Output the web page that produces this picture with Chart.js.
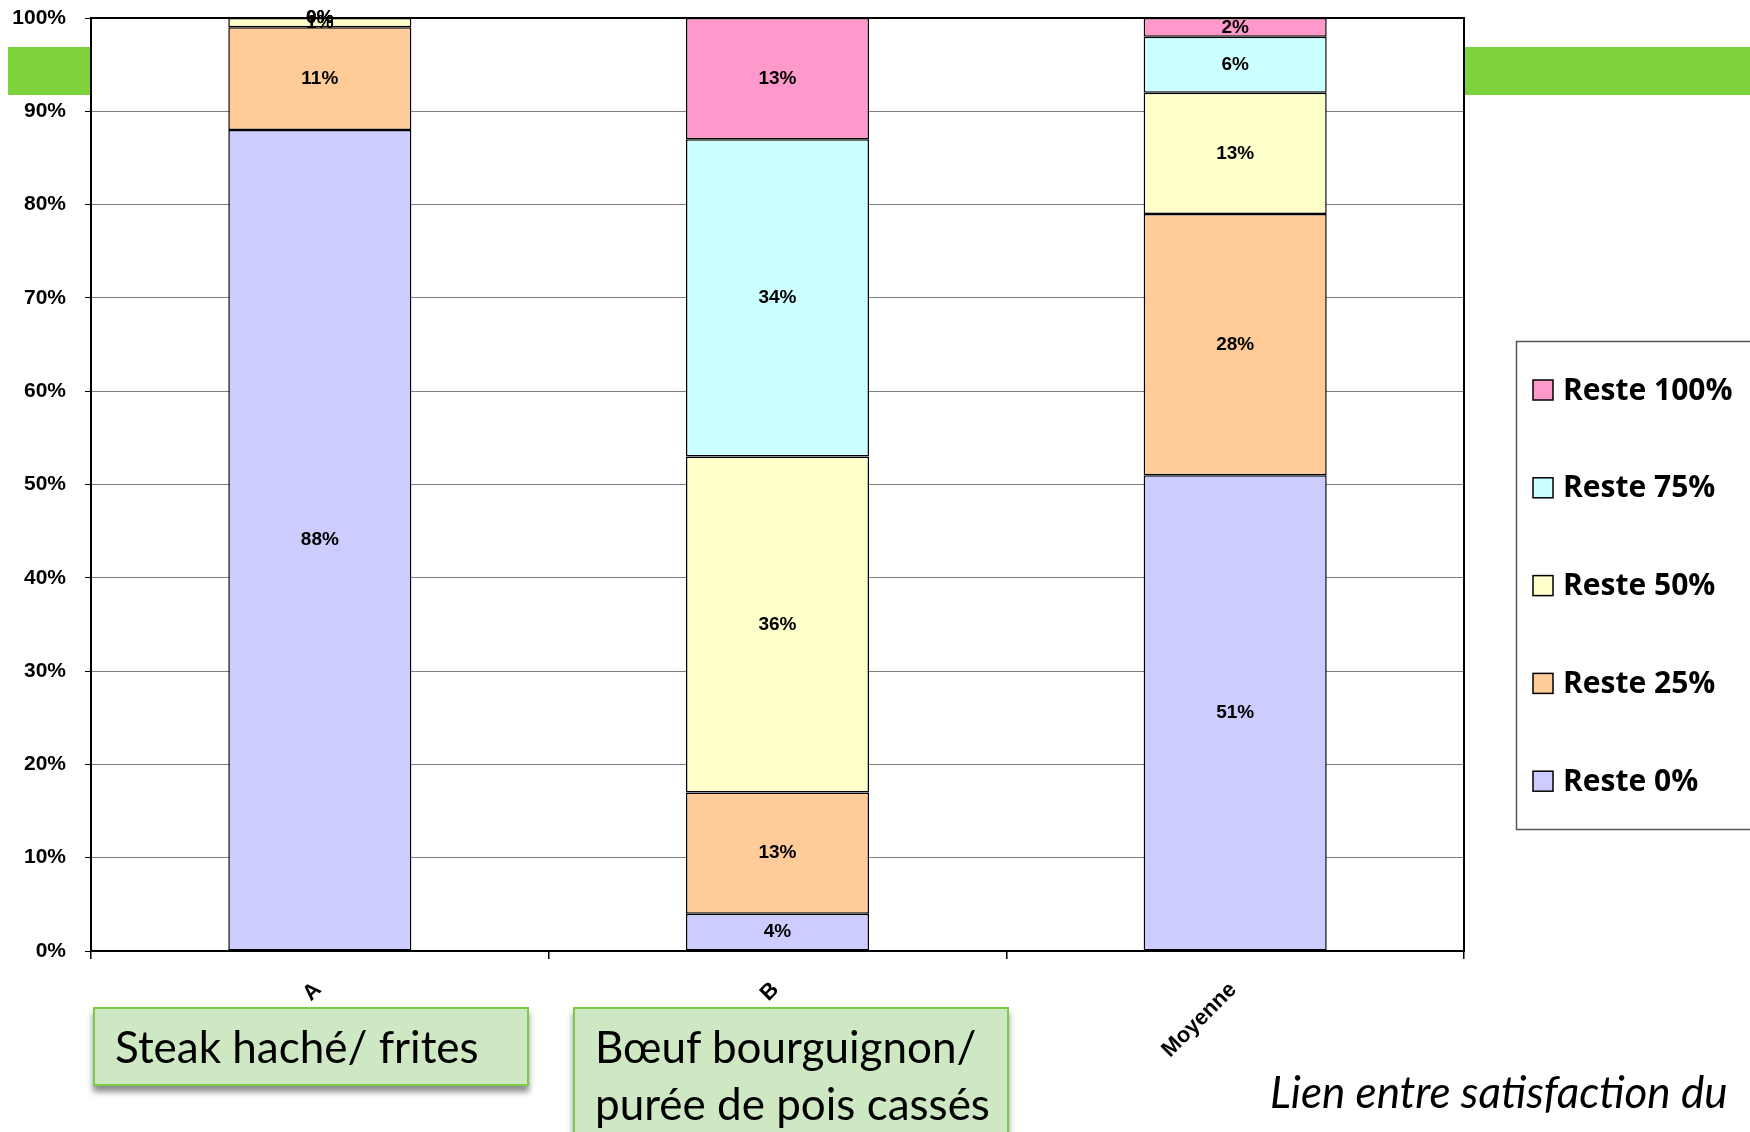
<!DOCTYPE html>
<html lang="fr">
<head>
<meta charset="utf-8">
<title>Reste par plat</title>
<script src="https://cdn.jsdelivr.net/npm/chart.js@4.4.1/dist/chart.umd.min.js"></script>
<style>
  html, body { margin: 0; padding: 0; background: #fff; }
  body { width: 1750px; height: 1132px; overflow: hidden; position: relative; }
  #band { position: absolute; left: 8px; top: 47px; width: 1742px; height: 48px; background: #7ed23c; }
  #chart { position: absolute; left: 0; top: 0; }
  .note { position: absolute; box-sizing: border-box; background: #cde8c2; border: 2px solid #7acc44;
          box-shadow: 0 6px 6px rgba(0,0,0,0.45); color: #000; font-family: Lato, sans-serif; font-size: 44px; }
  .note span { position: absolute; left: 20px; white-space: nowrap; line-height: 44px; }
  #caption { position: absolute; left: 1270px; top: 1069px; font-family: Lato, sans-serif; font-style: italic;
             font-size: 44px; line-height: 44px; color: #000; white-space: nowrap; }
</style>
</head>
<body>
<div id="band"></div>
<canvas id="chart" width="1750" height="1132"></canvas>
<div class="note" style="left:93px; top:1007px; width:436px; height:79px;">
  <span style="top:15px;">Steak haché/ frites</span>
</div>
<div class="note" style="left:573px; top:1007px; width:436px; height:140px;">
  <span style="top:15px;">Bœuf bourguignon/</span>
  <span style="top:72px;">purée de pois cassés</span>
</div>
<div id="caption">Lien entre satisfaction du</div>

<script>
// Plats comparés et part des assiettes selon le reste laissé (en %)
const categories = ['A', 'B', 'Moyenne'];
const seriesNames = ['Reste 0%', 'Reste 25%', 'Reste 50%', 'Reste 75%', 'Reste 100%'];
const reste0   = [88, 4, 51];
const reste25  = [11, 13, 28];
const reste50  = [1, 36, 13];
const reste75  = [0, 34, 6];
const reste100 = [0, 13, 2];
const seriesColors = ['#ccccff', '#ffcc99', '#ffffcc', '#ccffff', '#ff99cc'];
const yTickValues = [0, 10, 20, 30, 40, 50, 60, 70, 80, 90, 100];

const seriesValues = [reste0, reste25, reste50, reste75, reste100];

const datasets = seriesNames.map((name, i) => ({
  label: name,
  data: seriesValues[i],
  backgroundColor: seriesColors[i],
  borderColor: '#000',
  borderWidth: 1.5,
  borderSkipped: false,
  barPercentage: 0.4,
  categoryPercentage: 1.0
}));

// White plot area drawn over the green band
const plotBackground = {
  id: 'plotBackground',
  beforeDraw(chart) {
    const { ctx, chartArea: a } = chart;
    ctx.save();
    ctx.fillStyle = '#fff';
    ctx.fillRect(a.left, a.top, a.right - a.left, a.bottom - a.top);
    ctx.restore();
  }
};

// Black frame around the plot area
const plotFrame = {
  id: 'plotFrame',
  afterDatasetsDraw(chart) {
    const { ctx, chartArea: a } = chart;
    ctx.save();
    ctx.strokeStyle = '#000';
    ctx.lineWidth = 2;
    ctx.strokeRect(a.left, a.top, a.right - a.left, a.bottom - a.top);
    ctx.restore();
  }
};

// Percentage written in the middle of every segment
const segmentLabels = {
  id: 'segmentLabels',
  afterDraw(chart) {
    const ctx = chart.ctx;
    ctx.save();
    ctx.font = 'bold 19px "Liberation Sans", Arial, sans-serif';
    ctx.fillStyle = '#000';
    ctx.textAlign = 'center';
    ctx.textBaseline = 'middle';
    chart.data.datasets.forEach((ds, di) => {
      const meta = chart.getDatasetMeta(di);
      meta.data.forEach((bar, i) => {
        const y = (bar.y + bar.base) / 2;
        ctx.fillText(ds.data[i] + '%', bar.x, y);
      });
    });
    ctx.restore();
  }
};

// Boxed legend on the right, last series at the top
const boxedLegend = {
  id: 'boxedLegend',
  afterDraw(chart) {
    const ctx = chart.ctx;
    const left = 1516.5, top = 341.5, width = 260, height = 488;
    ctx.save();
    ctx.strokeStyle = '#555';
    ctx.lineWidth = 1.5;
    ctx.strokeRect(left, top, width, height);
    const items = chart.data.datasets.slice().reverse();
    const firstY = 390, step = 97.8;
    ctx.font = 'bold 30px "Open Sans", sans-serif';
    ctx.textBaseline = 'middle';
    ctx.textAlign = 'left';
    items.forEach((ds, i) => {
      const cy = firstY + i * step;
      ctx.fillStyle = ds.backgroundColor;
      ctx.fillRect(1533, cy - 10, 20, 20);
      ctx.strokeStyle = '#000';
      ctx.lineWidth = 1.5;
      ctx.strokeRect(1533, cy - 10, 20, 20);
      ctx.fillStyle = '#000';
      ctx.fillText(ds.label, 1563, cy + 1);
    });
    ctx.restore();
  }
};

new Chart(document.getElementById('chart'), {
  type: 'bar',
  data: { labels: categories, datasets },
  options: {
    responsive: false,
    animation: false,
    devicePixelRatio: 1,
    layout: { padding: { left: 0, top: 18, right: 286, bottom: 41 } },
    plugins: { legend: { display: false }, tooltip: { enabled: false } },
    scales: {
      x: {
        stacked: true,
        grid: { offset: true, drawOnChartArea: false, tickLength: 8, tickColor: '#000', lineWidth: 1.5 },
        border: { color: '#000', width: 2 },
        ticks: {
          minRotation: 45, maxRotation: 45, padding: 18, labelOffset: -2,
          color: '#000', font: { family: '"Liberation Sans", Arial, sans-serif', size: 22, weight: 'bold' }
        },
        afterFit(scale) {
          scale.height = 140;
          scale.paddingLeft = 0;
          scale.paddingRight = 0;
        }
      },
      y: {
        stacked: true,
        min: 0, max: 100,
        afterBuildTicks(scale) { scale.ticks = yTickValues.map(v => ({ value: v })); },
        grid: { color: '#7f7f7f', lineWidth: 1, tickLength: 6, tickColor: '#000' },
        border: { color: '#000', width: 2 },
        ticks: {
          padding: 19, color: '#000',
          font: { family: '"Liberation Sans", Arial, sans-serif', size: 21, weight: 'bold' },
          callback: v => v + '%'
        },
        afterFit(scale) {
          scale.width = 91;
          scale.paddingTop = 0;
          scale.paddingBottom = 0;
        }
      }
    }
  },
  plugins: [plotBackground, plotFrame, segmentLabels, boxedLegend]
});
</script>
</body>
</html>
